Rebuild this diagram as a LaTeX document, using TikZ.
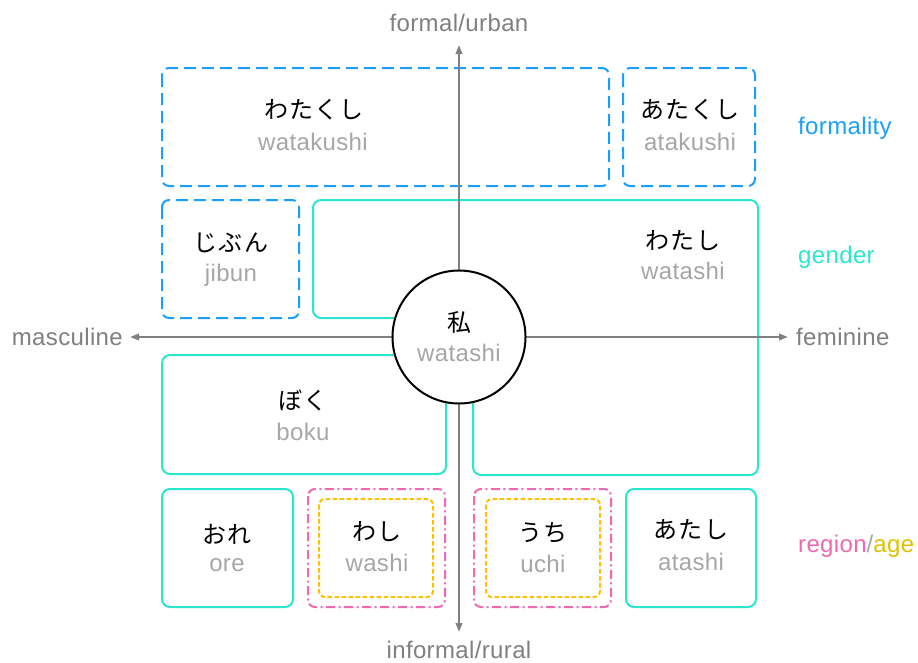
\documentclass[tikz,border=0pt]{standalone}
\usepackage{fontspec}
\setmainfont{Liberation Sans}[LetterSpace=1.5]
\newfontfamily\jp{Noto Sans CJK JP}[LetterSpace=5]
\usetikzlibrary{arrows.meta}
\definecolor{fblue}{HTML}{1A9FFF}
\definecolor{gteal}{HTML}{2BE6CE}
\definecolor{rpink}{HTML}{F268AE}
\definecolor{ayel}{HTML}{FFC000}
\definecolor{agetxt}{HTML}{E0C000}
\definecolor{axgray}{HTML}{808080}
\definecolor{romaji}{HTML}{A6A6A6}
\tikzset{
  formbox/.style={draw=fblue, line width=2pt, rounded corners=7pt, dash pattern=on 12pt off 6pt},
  genbox/.style={draw=gteal, line width=2pt, rounded corners=8pt},
  regbox/.style={draw=rpink, line width=2pt, rounded corners=7pt, dash pattern=on 9pt off 3.5pt on 2pt off 3.5pt},
  agebox/.style={draw=ayel, line width=2pt, rounded corners=6pt, dash pattern=on 4.5pt off 2.5pt},
  kana/.style={font=\fontsize{24}{27}\jp, text=black, inner sep=0pt},
  roma/.style={font=\fontsize{24}{27}\selectfont, text=romaji, inner sep=0pt},
  axlabel/.style={font=\fontsize{24}{27}\selectfont, text=axgray, inner sep=0pt},
  legend/.style={font=\fontsize{24}{27}\selectfont, anchor=west, inner sep=0pt},
  axis/.style={draw=axgray, line width=2.2pt, {Triangle[length=9pt,width=6.5pt]}-{Triangle[length=9pt,width=6.5pt]}},
}
\begin{document}
\begin{tikzpicture}[x=1pt,y=-1pt]
\useasboundingbox (0,0) rectangle (918,662);
% boxes
\draw[formbox] (162,68) rectangle (609,186);
\draw[formbox] (623,68) rectangle (755,186);
\draw[formbox] (162,200) rectangle (299,318);
\draw[genbox] (500,200) -- (758,200) -- (758,475) -- (473,475) -- (473,318) -- (313,318) -- (313,200) -- cycle;
\draw[genbox] (162,355) rectangle (446,474);
\draw[genbox] (162,489) rectangle (293,607);
\draw[regbox] (308,489) rectangle (445,607);
\draw[agebox] (319,499) rectangle (433,597);
\draw[regbox] (474,489) rectangle (611,607);
\draw[agebox] (486,499) rectangle (600,597);
\draw[genbox] (626,489) rectangle (756,607);
% axes
\coordinate (top) at (459,45);
\coordinate (bottom) at (459,632);
\coordinate (left) at (130,337);
\coordinate (right) at (788,337);
\draw[axis] (bottom) -- (top);
\draw[axis] (left) -- (right);
\node[axlabel] (formal) at (459,23) {formal/urban};
\node[axlabel] (informal) at (459,650) {informal/rural};
\node[axlabel, anchor=east] (masc) at (123,337) {masculine};
\node[axlabel, anchor=west] (fem) at (796,337) {feminine};
% center
\node[circle, draw=black, line width=2pt, fill=white, minimum size=133pt, inner sep=0pt] (center) at (459,337) {};
\node[kana] (k0) at (459,322) {私};
\node[roma] (r0) at (459,353) {watashi};
% labels
\node[kana] (k1) at (314,110) {わたくし};
\node[roma] (r1) at (313,142) {watakushi};
\node[kana] (k2) at (690,110) {あたくし};
\node[roma] (r2) at (690,142) {atakushi};
\node[kana] (k3) at (231,243) {じぶん};
\node[roma] (r3) at (231,275) {jibun};
\node[kana] (k4) at (683,241) {わたし};
\node[roma] (r4) at (683,271) {watashi};
\node[kana] (k5) at (303,400) {ぼく};
\node[roma] (r5) at (303,432) {boku};
\node[kana] (k6) at (227,534) {おれ};
\node[roma] (r6) at (227,565) {ore};
\node[kana] (k7) at (377,532) {わし};
\node[roma] (r7) at (377,563) {washi};
\node[kana] (k8) at (543,533) {うち};
\node[roma] (r8) at (543,564) {uchi};
\node[kana] (k9) at (691,530) {あたし};
\node[roma] (r9) at (691,562) {atashi};
% legend
\node[legend, text=fblue] (lf) at (798,128) {formality};
\node[legend, text=gteal] (lg) at (798,257) {gender};
\node[legend] (lr) at (798,546) {\textcolor{rpink}{region}\textcolor{romaji}{/}\textcolor{agetxt}{age}};
\end{tikzpicture}
\end{document}
